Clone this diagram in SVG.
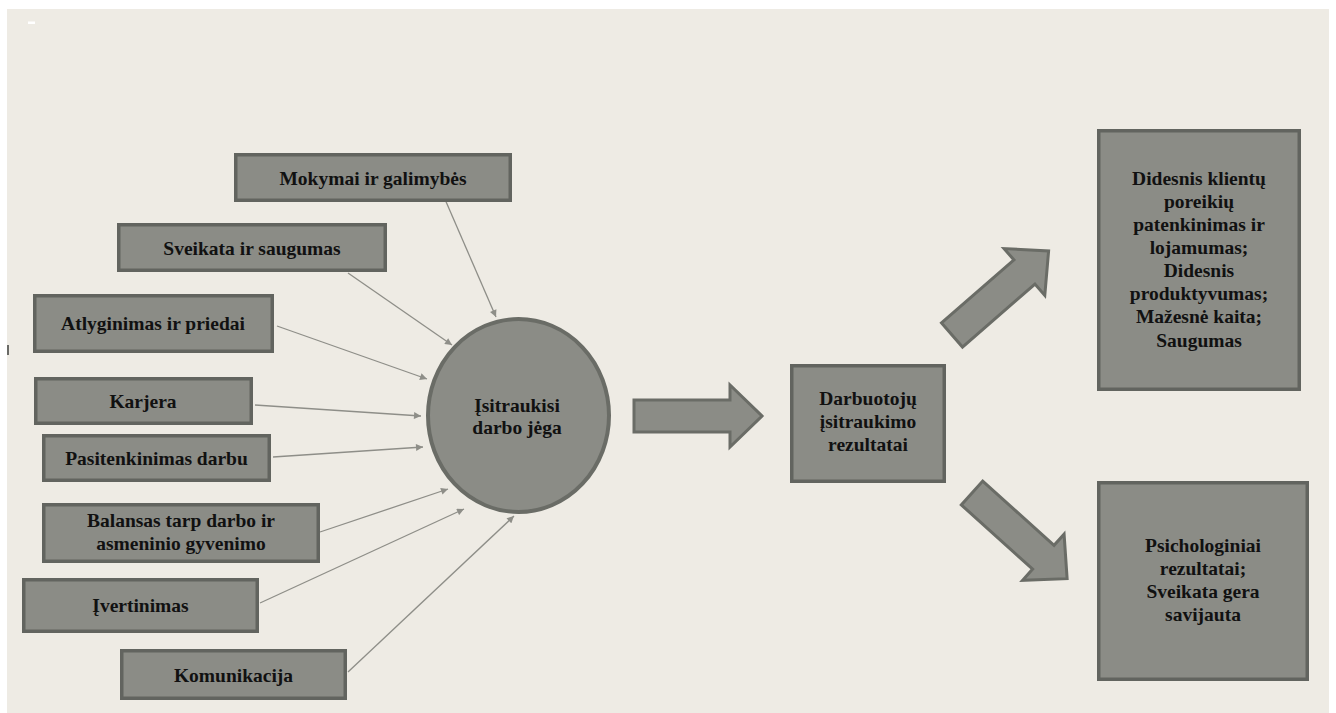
<svg xmlns="http://www.w3.org/2000/svg" width="1336" height="713" viewBox="0 0 1336 713">
  <style>
    .box { fill: #8b8c86; stroke: #62645f; stroke-width: 3.5; }
    .lbl { font-weight: bold; font-size: 19.5px; fill: #111111; text-anchor: middle; }
    .link { stroke: #8e8e88; stroke-width: 1.3; fill: none; marker-end: url(#tip); }
    .big { fill: #8b8c86; stroke: #6a6c66; stroke-width: 3; stroke-linejoin: miter; }
  </style>
  <defs>
    <marker id="tip" viewBox="0 0 10 10" refX="10" refY="5" markerWidth="8" markerHeight="7" markerUnits="userSpaceOnUse" orient="auto">
      <path d="M0,0 L10,5 L0,10 z" fill="#8e8e88"/>
    </marker>
    <!-- block arrow, tail at origin, pointing along +x -->
    <path id="blockArrow" d="M0,-16 L96,-16 L96,-31 L128,0 L96,31 L96,16 L0,16 z"/>
  </defs>

  <!-- page -->
  <rect x="0" y="0" width="1336" height="713" fill="#ffffff"/>
  <rect x="7" y="9" width="1322" height="704" fill="#eeebe4"/>
  <rect x="28" y="21.5" width="7" height="2.5" fill="#ffffff"/>
  <rect x="7" y="345" width="2" height="10" fill="#6a6a66"/>

  <!-- connectors -->
  <g id="connectors">
    <line class="link" x1="444" y1="197" x2="496" y2="317"/>
    <line class="link" x1="348" y1="273" x2="452" y2="345"/>
    <line class="link" x1="277" y1="326" x2="427" y2="379"/>
    <line class="link" x1="255" y1="405" x2="421" y2="416"/>
    <line class="link" x1="273" y1="457" x2="423" y2="447"/>
    <line class="link" x1="320" y1="532" x2="448" y2="489"/>
    <line class="link" x1="260" y1="603" x2="464" y2="509"/>
    <line class="link" x1="348" y1="672" x2="514" y2="516"/>
    <use href="#blockArrow" class="big" transform="translate(634,416)"/>
    <use href="#blockArrow" class="big" transform="translate(952,335) rotate(-41)"/>
    <use href="#blockArrow" class="big" transform="translate(972,493) rotate(42)"/>
  </g>

  <g font-family="Liberation Serif, DejaVu Serif, serif">
  <!-- drivers -->
  <g id="mokymai">
    <rect class="box" x="235.75" y="154.75" width="274.5" height="45.5"/>
    <text class="lbl" x="373" y="185">Mokymai ir galimybės</text>
  </g>
  <g id="sveikata">
    <rect class="box" x="118.75" y="224.75" width="266.5" height="45.5"/>
    <text class="lbl" x="252" y="255">Sveikata ir saugumas</text>
  </g>
  <g id="atlyginimas">
    <rect class="box" x="34.75" y="295.75" width="237.5" height="55.5"/>
    <text class="lbl" x="153" y="330">Atlyginimas ir priedai</text>
  </g>
  <g id="karjera">
    <rect class="box" x="35.75" y="378.75" width="215.5" height="44.5"/>
    <text class="lbl" x="143" y="408">Karjera</text>
  </g>
  <g id="pasitenkinimas">
    <rect class="box" x="43.75" y="435.75" width="225.5" height="44.5"/>
    <text class="lbl" x="156.5" y="465">Pasitenkinimas darbu</text>
  </g>
  <g id="balansas">
    <rect class="box" x="43.75" y="504.75" width="274.5" height="56.5"/>
    <text class="lbl" x="181" y="527">Balansas tarp darbo ir</text>
    <text class="lbl" x="181" y="550">asmeninio gyvenimo</text>
  </g>
  <g id="ivertinimas">
    <rect class="box" x="23.75" y="579.75" width="233.5" height="51.5"/>
    <text class="lbl" x="140.5" y="612">Įvertinimas</text>
  </g>
  <g id="komunikacija">
    <rect class="box" x="121.75" y="650.75" width="223.5" height="47.5"/>
    <text class="lbl" x="233.5" y="682">Komunikacija</text>
  </g>

  <!-- engaged workforce -->
  <g id="isitraukisi">
    <ellipse cx="518.5" cy="415.5" rx="90.5" ry="96.5" fill="#8b8c86" stroke="#6a6c66" stroke-width="4"/>
    <text class="lbl" x="517" y="412">Įsitraukisi</text>
    <text class="lbl" x="517" y="434">darbo jėga</text>
  </g>

  <!-- outcomes -->
  <g id="rezultatai">
    <rect class="box" x="791.75" y="365.75" width="152.5" height="115.5"/>
    <text class="lbl" x="868" y="405">Darbuotojų</text>
    <text class="lbl" x="868" y="428">įsitraukimo</text>
    <text class="lbl" x="868" y="451">rezultatai</text>
  </g>
  <g id="verslo-rezultatai">
    <rect class="box" x="1098.75" y="130.75" width="200.5" height="258.5"/>
    <text class="lbl" x="1199" y="185">Didesnis klientų</text>
    <text class="lbl" x="1199" y="208">poreikių</text>
    <text class="lbl" x="1199" y="231">patenkinimas ir</text>
    <text class="lbl" x="1199" y="254">lojamumas;</text>
    <text class="lbl" x="1199" y="277">Didesnis</text>
    <text class="lbl" x="1199" y="300">produktyvumas;</text>
    <text class="lbl" x="1199" y="323">Mažesnė kaita;</text>
    <text class="lbl" x="1199" y="347">Saugumas</text>
  </g>
  <g id="psichologiniai">
    <rect class="box" x="1098.75" y="482.75" width="208.5" height="196.5"/>
    <text class="lbl" x="1203" y="552">Psichologiniai</text>
    <text class="lbl" x="1203" y="575">rezultatai;</text>
    <text class="lbl" x="1203" y="598">Sveikata gera</text>
    <text class="lbl" x="1203" y="621">savijauta</text>
  </g>
  </g>
</svg>
